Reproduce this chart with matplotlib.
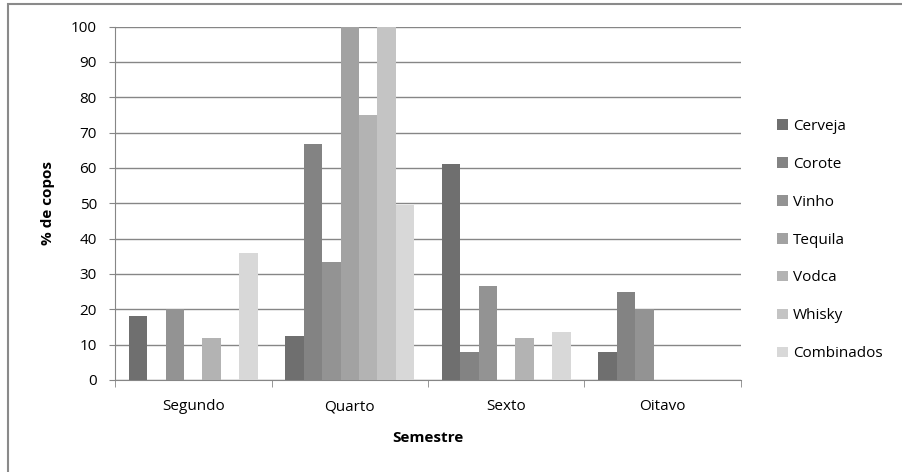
"""Grouped bar chart: % de copos by semestre and drink."""
import matplotlib
matplotlib.use("Agg")
import matplotlib.pyplot as plt
import numpy as np
from matplotlib.patches import Rectangle

plt.rcParams['font.family'] = ['Open Sans', 'DejaVu Sans']

semestres = ["Segundo", "Quarto", "Sexto", "Oitavo"]
bebidas = ["Cerveja", "Corote", "Vinho", "Tequila", "Vodca", "Whisky", "Combinados"]

cerveja = [18, 12.5, 61, 8]
corote = [0, 66.7, 8, 25]
vinho = [20, 33.3, 26.7, 20]
tequila = [0, 100, 0, 0]
vodca = [12, 75, 12, 0]
whisky = [0, 100, 0, 0]
combinados = [36, 49.5, 13.5, 0]

series = [cerveja, corote, vinho, tequila, vodca, whisky, combinados]
cores = ["#6f6f6f", "#838383", "#939393", "#a2a2a2", "#b3b3b3", "#c4c4c4", "#d8d8d8"]

fig = plt.figure(figsize=(9.02, 4.72), dpi=100)
ax = fig.add_axes([0.1275, 0.195, 0.694, 0.7485])

# chart area border
fig.patches.append(Rectangle((8 / 902, -0.05), 1.2, 1 - 4 / 472 + 0.05,
                             transform=fig.transFigure, fill=False,
                             edgecolor="#8a8a8a", linewidth=1.5))

x = np.arange(len(semestres))
largura = 0.118
for i, (vals, nome, cor) in enumerate(zip(series, bebidas, cores)):
    ax.bar(x + (i - 3) * largura, vals, largura, color=cor, label=nome,
           zorder=3, linewidth=0)

ax.set_xlim(-0.5, 3.5)
ax.set_ylim(0, 100)
ax.set_yticks(range(0, 101, 10))
ax.set_xticks(x)
ax.set_xticklabels(semestres)
ax.set_xticks(np.arange(-0.5, 4.0, 1), minor=True)
ax.tick_params(axis="x", which="major", length=0, pad=14, labelsize=11)
ax.tick_params(axis="x", which="minor", length=5, color="#868686", direction="out")
ax.tick_params(axis="y", length=4, color="#868686", labelsize=11, pad=9)
ax.yaxis.grid(True, color="#868686", linewidth=1, zorder=0)

for s in ["top", "right"]:
    ax.spines[s].set_visible(False)
for s in ["left", "bottom"]:
    ax.spines[s].set_color("#868686")

fig.text(48 / 902, 1 - 203 / 472, "% de copos", rotation=90, fontsize=11,
         fontweight="bold", ha="center", va="center")
fig.text(428 / 902, 1 - 438 / 472, "Semestre", fontsize=11,
         fontweight="bold", ha="center", va="center")

ax.legend(loc="center left", bbox_to_anchor=(771 / 902, 1 - 240 / 472),
          bbox_transform=fig.transFigure, frameon=False, fontsize=11,
          handlelength=0.7, handleheight=0.7, handletextpad=0.35,
          labelspacing=1.5, borderaxespad=0)

fig.savefig("out.png", dpi=100)
